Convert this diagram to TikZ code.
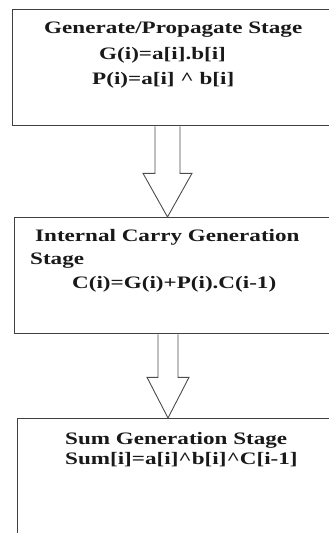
\documentclass[tikz,border=0pt]{standalone}
\usepackage{fontspec}
\newfontfamily\stagefont[FakeStretch=1.32]{Liberation Serif}
\usetikzlibrary{calc, positioning}

\begin{document}
\begin{tikzpicture}[
            x=1pt, y=-1pt,
            stagebox/.style={draw=black!75, line width=1.3pt, anchor=north west, minimum width=340pt, minimum height=116pt, inner sep=0pt},
            stagetext/.style={anchor=base west, inner sep=0pt, text=black!90, font=\stagefont\bfseries\fontsize{17.5}{21}\selectfont},
            hollowarrow/.style={draw=black!70, line width=0.9pt, fill=white, line join=miter}
        ]

        \useasboundingbox (0,0) rectangle (329,533);
        \clip (0,0) rectangle (329,533);

        % Stage boxes
        \node[stagebox] (gen) at (12,9) {};
        \node[stagebox] (carry) at (14,217) {};
        \node[stagebox, minimum height=140pt] (sum) at (17,418) {};

        % Generate/Propagate stage
        \node[stagetext] (gen-title) at (44,33.5) {Generate/Propagate Stage};
        \node[stagetext] (gen-g) at (99,59.5) {G(i)=a[i].b[i]};
        \node[stagetext] (gen-p) at (92,84.5) {P(i)=a[i] \^{} b[i]};

        % Internal carry stage
        \node[stagetext] (carry-title) at (35,241) {Internal Carry Generation};
        \node[stagetext] (carry-title2) at (30,264.5) {Stage};
        \node[stagetext] (carry-c) at (72,288) {C(i)=G(i)+P(i).C(i-1)};

        % Sum generation stage
        \node[stagetext] (sum-title) at (65,444) {Sum Generation Stage};
        \node[stagetext] (sum-s) at (65,464.5) {Sum[i]=a[i]\^{}b[i]\^{}C[i-1]};

        % Block arrows between stages
        \foreach \from/\to/\dx/\sw/\hw/\hl in {gen/carry/155.5/12.5/24.5/47, carry/sum/154/10/21/43}
        {
            \path (\from.south west) ++(\dx,0) coordinate (\from-out);
            \draw[hollowarrow] ($(\from-out)+(-\sw,0)$) -- ++(0,\hl) -- ($(\from-out)+(-\hw,\hl)$)
                -- (\from-out |- \to.north) -- ($(\from-out)+(\hw,\hl)$) -- ($(\from-out)+(\sw,\hl)$)
                -- ($(\from-out)+(\sw,0)$);
        }

    \end{tikzpicture}
\end{document}
